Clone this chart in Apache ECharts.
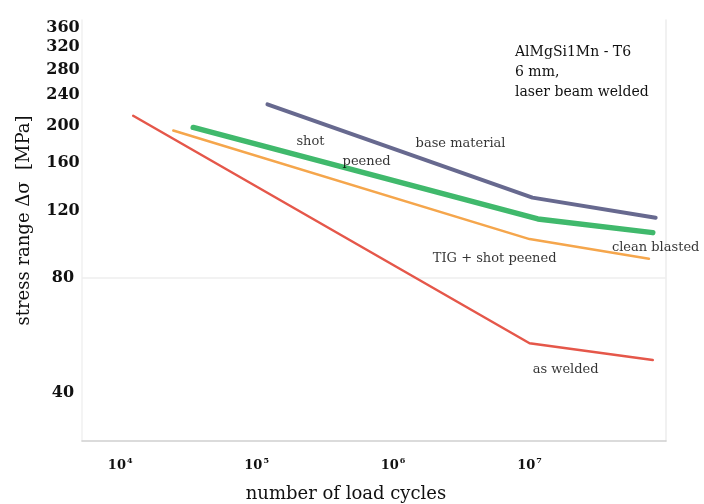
<!DOCTYPE html>
<html>
<head>
<meta charset="utf-8">
<script src="https://cdn.jsdelivr.net/npm/echarts@6/dist/echarts.min.js"></script>
<style>
  html, body { margin: 0; padding: 0; background: #fff; }
  #chart { width: 704px; height: 504px; }
</style>
</head>
<body>
<div id="chart"></div>
<script>
// S-N curves (cycles, MPa)
const baseN = [1.2e5, 1.05e7, 8.4e7];
const baseS = [227, 129.6, 114.8];
const cleanN = [3.43e4, 1.15e7, 8.0e7];
const cleanS = [197.6, 114, 105];
const tigN = [2.45e4, 1.0e7, 7.5e7];
const tigS = [194, 101, 89.7];
const weldN = [1.245e4, 1.0e7, 8.0e7];
const weldS = [212, 54, 48.8];

const yTicks = [40, 80, 120, 160, 200, 240, 280, 320, 360];
const xTicks = [1e4, 1e5, 1e6, 1e7];

// curve labels: [cycles, stress, text]
const curveLabels = [
  [2.48e5, 181.6, 'shot'],
  [6.4e5, 161, 'peened'],
  [3.12e6, 179, 'base material'],
  [8.4e7, 95.9, 'clean blasted'],
  [5.55e6, 89.7, 'TIG + shot peened'],
  [1.84e7, 46, 'as welded']
];

const serif = '"DejaVu Serif", serif';

const zip = (xs, ys) => xs.map((x, i) => [x, ys[i]]);

const chart = echarts.init(document.getElementById('chart'), null, { renderer: 'canvas' });

const line = (name, xs, ys, color, width, z) => ({
  name: name,
  type: 'line',
  z: z,
  data: zip(xs, ys),
  symbol: 'none',
  lineStyle: { color: color, width: width, cap: 'round', join: 'round' },
  silent: true
});

const yAxisBase = {
  type: 'log',
  logBase: 10,
  min: 30,
  max: 377,
  splitLine: { show: false },
  axisTick: { show: false },
  minorTick: { show: false }
};

chart.setOption({
  backgroundColor: '#fff',
  animation: false,
  title: {
    text: 'AlMgSi1Mn - T6\n6 mm,\nlaser beam welded',
    left: 510,
    top: 37,
    textStyle: { fontFamily: serif, fontSize: 14, fontWeight: 'normal', color: '#111', lineHeight: 20 }
  },
  grid: { left: 82, right: 38, top: 20, bottom: 63, outerBoundsMode: 'none', containLabel: false },
  xAxis: {
    type: 'log',
    logBase: 10,
    min: 5250,
    max: 1e8,
    name: 'number of load cycles',
    nameLocation: 'middle',
    nameGap: 44,
    nameTextStyle: { fontFamily: serif, fontSize: 18, color: '#111', padding: [0, 56, 0, 0] },
    axisLine: { lineStyle: { color: '#cfcfcf', width: 1.5 } },
    axisTick: { show: false },
    splitLine: { show: false },
    axisLabel: {
      customValues: xTicks,
      margin: 16,
      formatter: v => '{b|10}{s|' + Math.round(Math.log10(v)) + '}',
      rich: {
        b: { fontFamily: serif, fontSize: 13, fontWeight: 'bold', color: '#111' },
        s: { fontFamily: serif, fontSize: 8, fontWeight: 'bold', color: '#111', padding: [0, 0, 10, 1] }
      }
    }
  },
  yAxis: [
    Object.assign({}, yAxisBase, {
      name: 'stress range \u0394\u03c3  [MPa]',
      nameLocation: 'middle',
      nameGap: 49,
      nameTextStyle: { fontFamily: serif, fontSize: 18, color: '#111', padding: [0, 0, 0, 20] },
      axisLine: { show: true, lineStyle: { color: '#f0f0f0', width: 1.5 } },
      axisLabel: {
        customValues: yTicks,
        align: 'center',
        margin: 19,
        fontFamily: serif,
        fontSize: 16,
        fontWeight: 'bold',
        color: '#111'
      }
    }),
    Object.assign({}, yAxisBase, {
      position: 'right',
      axisLine: { show: true, lineStyle: { color: '#ececec', width: 1.5 } },
      axisLabel: { show: false }
    })
  ],
  series: [
    Object.assign(line('base material', baseN, baseS, '#67698f', 4, 3), {
      markLine: {
        z: 1,
        silent: true,
        symbol: 'none',
        label: { show: false },
        lineStyle: { color: '#eeeeee', width: 1.5, type: 'solid' },
        data: [{ yAxis: 80 }]
      }
    }),
    line('shot peened / clean blasted', cleanN, cleanS, '#40b96c', 5.5, 3),
    line('TIG + shot peened', tigN, tigS, '#f5a64c', 2.5, 4),
    line('as welded', weldN, weldS, '#e5574a', 2.5, 4),
    {
      name: 'labels',
      type: 'scatter',
      z: 5,
      symbolSize: 0,
      silent: true,
      data: curveLabels.map(d => ({ value: [d[0], d[1]], name: d[2] })),
      label: {
        show: true,
        position: 'inside',
        formatter: p => p.name,
        fontFamily: serif,
        fontSize: 13,
        color: '#000'
      }
    }
  ]
});
</script>
</body>
</html>
